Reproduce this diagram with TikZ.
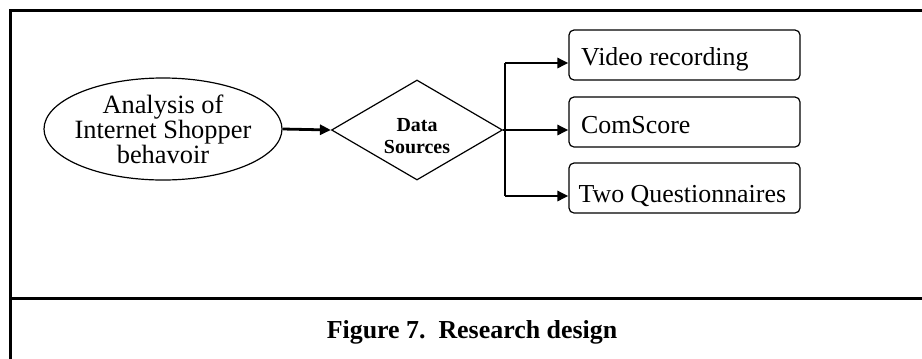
\documentclass[tikz,border=0pt]{standalone}
\usepackage{fontspec}
\setmainfont{Liberation Serif}
\usetikzlibrary{shapes.geometric,arrows.meta,calc}

\tikzset{
  outline/.style={draw=black, line width=1.2bp},
  framerule/.style={draw=black, line width=3bp},
  conn/.style={draw=black, line width=2.8bp},
  arr/.style={conn, -{Triangle[length=11bp,width=10bp]}},
  srcbox/.style={outline, rounded corners=5bp, minimum width=231bp,
                 minimum height=50bp, inner sep=0pt},
  boxtext/.style={font=\fontsize{26}{26}\selectfont, anchor=base west, inner sep=0pt},
}

\begin{document}
\begin{tikzpicture}[x=1bp, y=-1bp]
\useasboundingbox (0,0) rectangle (922,358);

% page frame and caption divider
\draw[framerule] (10.5,9) -- (10.5,360);
\draw[framerule] (9,10.5) -- (924,10.5);
\draw[framerule] (9,298.5) -- (924,298.5);

% main topic (negative inner sep keeps the ellipse tight round the text)
\node[outline, ellipse, minimum width=238bp, minimum height=102bp,
      inner xsep=-8bp, inner ysep=-5bp,
      align=center, font=\fontsize{26.5}{23.5}\selectfont] (topic) at (163,129)
  {Analysis of\\Internet Shopper\\behavoir};

% decision diamond
\node[outline, diamond, aspect=1.71, minimum width=171bp, minimum height=100bp,
      inner sep=0pt] (ds) at (417,130) {};
\node[font=\bfseries\fontsize{20}{22}\selectfont, align=center, inner sep=0pt]
  (dstext) at ([yshift=-6bp]ds.center) {Data\\Sources};

% data sources
\node[srcbox] (b1) at (684.5,55) {};
\node[srcbox] (b2) at (684.5,122) {};
\node[srcbox] (b3) at (684.5,188) {};
\node[boxtext] (t1) at ([xshift=12.5bp,yshift=-10bp]b1.west) {Video recording};
\node[boxtext] (t2) at ([xshift=12.5bp,yshift=-11bp]b2.west) {ComScore};
\node[boxtext] (t3) at ([xshift=10bp,yshift=-14bp]b3.west) {Two Questionnaires};

% connectors
\coordinate (fmid) at (505,130);
\coordinate (ftop) at (505,63);
\coordinate (fbot) at (505,196);
\draw[arr] (topic.east) -- (ds.west);
\draw[conn] (ds.east) -- (fmid);
\draw[conn] (ftop) -- (fbot);
\draw[arr] (ftop) -- (ftop -| b1.west);
\draw[arr] (fmid) -- (fmid -| b2.west);
\draw[arr] (fbot) -- (fbot -| b3.west);

% caption
\node[font=\bfseries\fontsize{26}{26}\selectfont, anchor=base, inner sep=0pt]
  (cap) at (472,338) {Figure 7.\ \ Research design};
\end{tikzpicture}
\end{document}
